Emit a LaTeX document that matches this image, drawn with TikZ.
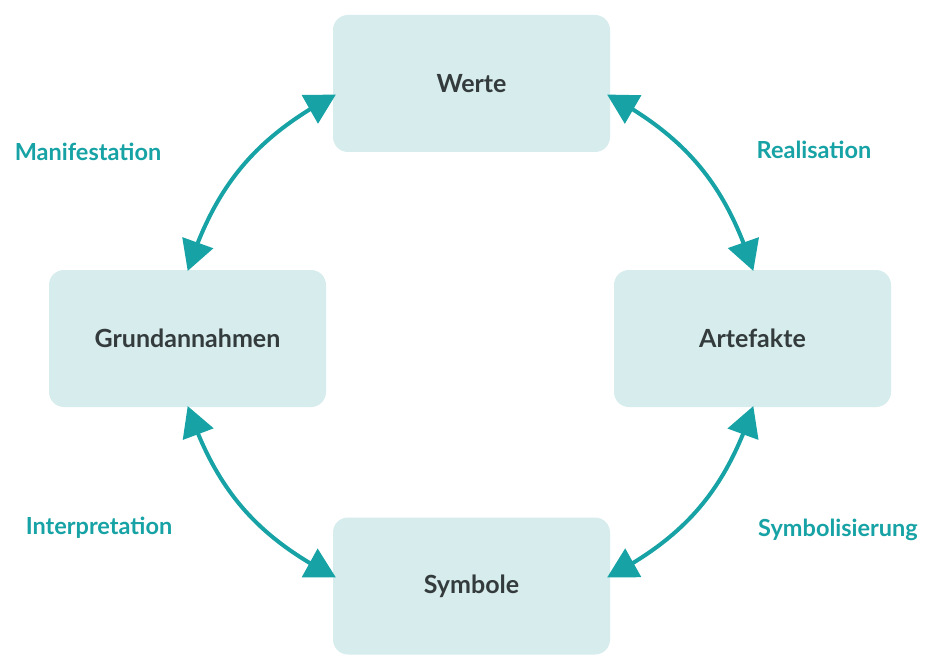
\documentclass[tikz,border=0pt]{standalone}
\usepackage{fontspec}
\setmainfont{Lato}
\usetikzlibrary{arrows.meta,bending}
\definecolor{boxfill}{HTML}{D7ECEC}
\definecolor{teal}{HTML}{17A3A5}
\definecolor{textdark}{HTML}{333B3D}
\tikzset{
  box/.style={draw=none, fill=boxfill, rounded corners=15pt, minimum width=277pt, minimum height=137pt, font=\fontsize{25}{30}\selectfont\bfseries, text=textdark},
  lbl/.style={font=\fontsize{23.5}{28}\selectfont\bfseries, text=teal},
  conn/.style={teal, line width=4pt, {Triangle[length=30pt,width=32pt,flex]}-{Triangle[length=30pt,width=32pt,flex]}, shorten <=-1pt, shorten >=-1pt}
}
\begin{document}
\begin{tikzpicture}[x=1pt,y=-1pt]
\useasboundingbox (0,0) rectangle (928,655);
\fill[white] (0,0) rectangle (928,655);
\node[box] (werte) at (471.5,83.5) {Werte};
\node[box] (grund) at (187.5,338.5) {Grundannahmen};
\node[box] (arte) at (752.5,338.5) {Artefakte};
\node[box] (symb) at (471.5,586) {Symbole};
\coordinate (w1) at (335,95);
\coordinate (w2) at (608,95);
\coordinate (g1) at (188,270);
\coordinate (g2) at (188,407);
\coordinate (a1) at (753,270);
\coordinate (a2) at (753,407);
\coordinate (s1) at (335,577);
\coordinate (s2) at (608,577);
\draw[conn] (g1) to[bend left=22] (w1);
\draw[conn] (w2) to[bend left=22] (a1);
\draw[conn] (a2) to[bend left=22] (s2);
\draw[conn] (s1) to[bend left=22] (g2);
\node[lbl] (l1) at (88,152) {Manifestation};
\node[lbl] (l2) at (814,150) {Realisation};
\node[lbl] (l3) at (99,528) {Interpretation};
\node[lbl] (l4) at (838,530) {Symbolisierung};
\end{tikzpicture}
\end{document}
